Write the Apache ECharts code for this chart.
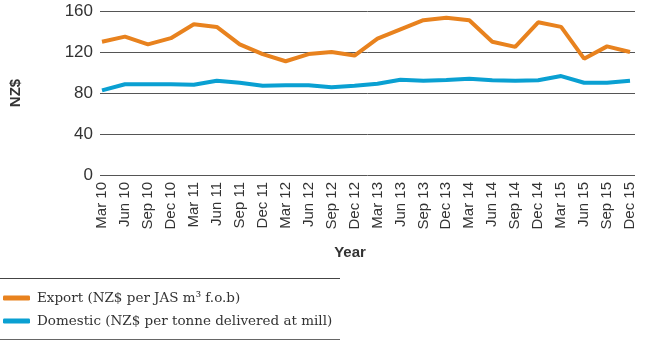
<!DOCTYPE html>
<html><head><meta charset="utf-8">
<script src="https://cdn.jsdelivr.net/npm/echarts@6/dist/echarts.min.js"></script>
<style>html,body{margin:0;padding:0;background:#fff}#c{width:645px;height:343px}</style>
</head><body><div id="c"></div>
<script>
var categories = ['Mar 10','Jun 10','Sep 10','Dec 10','Mar 11','Jun 11','Sep 11','Dec 11','Mar 12','Jun 12','Sep 12','Dec 12','Mar 13','Jun 13','Sep 13','Dec 13','Mar 14','Jun 14','Sep 14','Dec 14','Mar 15','Jun 15','Sep 15','Dec 15'];
var exportValues = [130,135,127.5,133.5,147,144.5,127.5,118,111,118,120,116.5,133,142,151,153.5,151,130,125,149,144.5,113.5,125.5,120];
var domesticValues = [82.5,88.5,88.5,88.5,88,92,90,87,87.5,87.5,85.5,87,89,93,92,92.8,94,92.5,92,92.5,96.5,90,90,92];
var yTicks = [0,40,80,120,160];
var seriesNames = ['Export (NZ$ per JAS m\u00B3 f.o.b)','Domestic (NZ$ per tonne delivered at mill)'];
var colors = ['#E8821E','#0AA0D2'];

var axisFont = '"Liberation Sans Narrow","Liberation Sans",Arial,sans-serif';
var chart = echarts.init(document.getElementById('c'), null, {renderer:'canvas'});
chart.setOption({
  animation:false,
  color: colors,
  grid:[
    {left:102, right:15, top:11, bottom:168},
    {left:97, right:10, top:11, bottom:168}
  ],
  xAxis:[
    {type:'category', gridIndex:0, data:categories, boundaryGap:false,
     axisLine:{show:false}, axisTick:{show:false},
     axisLabel:{rotate:90, interval:0, margin:7, color:'#333', fontSize:15, fontFamily:axisFont},
     name:'Year', nameLocation:'middle', nameGap:70,
     nameTextStyle:{fontFamily:axisFont, fontWeight:'bold', fontSize:15, color:'#333', padding:[0,32,0,0]}},
    {type:'category', gridIndex:1, data:categories, show:false}
  ],
  yAxis:[
    {type:'value', gridIndex:0, min:yTicks[0], max:yTicks[yTicks.length-1], interval:40,
     axisLine:{show:false}, axisTick:{show:false}, axisLabel:{show:false}, splitLine:{show:false}},
    {type:'value', gridIndex:1, min:yTicks[0], max:yTicks[yTicks.length-1], interval:40,
     axisLine:{show:false}, axisTick:{show:false},
     axisLabel:{margin:7, color:'#333', fontSize:17, fontFamily:axisFont},
     splitLine:{lineStyle:{color:'#555', width:1}},
     name:'NZ$', nameLocation:'middle', nameGap:77, nameRotate:90,
     nameTextStyle:{fontFamily:axisFont, fontWeight:'bold', fontSize:15, color:'#333'}}
  ],
  legend:{
    orient:'vertical', left:3, top:291, padding:0, itemGap:9, itemWidth:27, itemHeight:5, icon:'roundRect',
    textStyle:{fontFamily:'"DejaVu Serif",Georgia,serif', fontSize:13.5, color:'#333', padding:[0,0,0,2]},
    data:seriesNames
  },
  graphic:[
    {type:'line', shape:{x1:0,y1:278.5,x2:340,y2:278.5}, style:{stroke:'#444', lineWidth:1}},
    {type:'line', shape:{x1:0,y1:339.5,x2:340,y2:339.5}, style:{stroke:'#666', lineWidth:1}}
  ],
  series:[
    {name:seriesNames[0], type:'line', xAxisIndex:0, yAxisIndex:0, data:exportValues,
     showSymbol:false, symbol:'none', lineStyle:{width:4, color:colors[0]}},
    {name:seriesNames[1], type:'line', xAxisIndex:0, yAxisIndex:0, data:domesticValues,
     showSymbol:false, symbol:'none', lineStyle:{width:4, color:colors[1]}}
  ]
});
</script></body></html>
